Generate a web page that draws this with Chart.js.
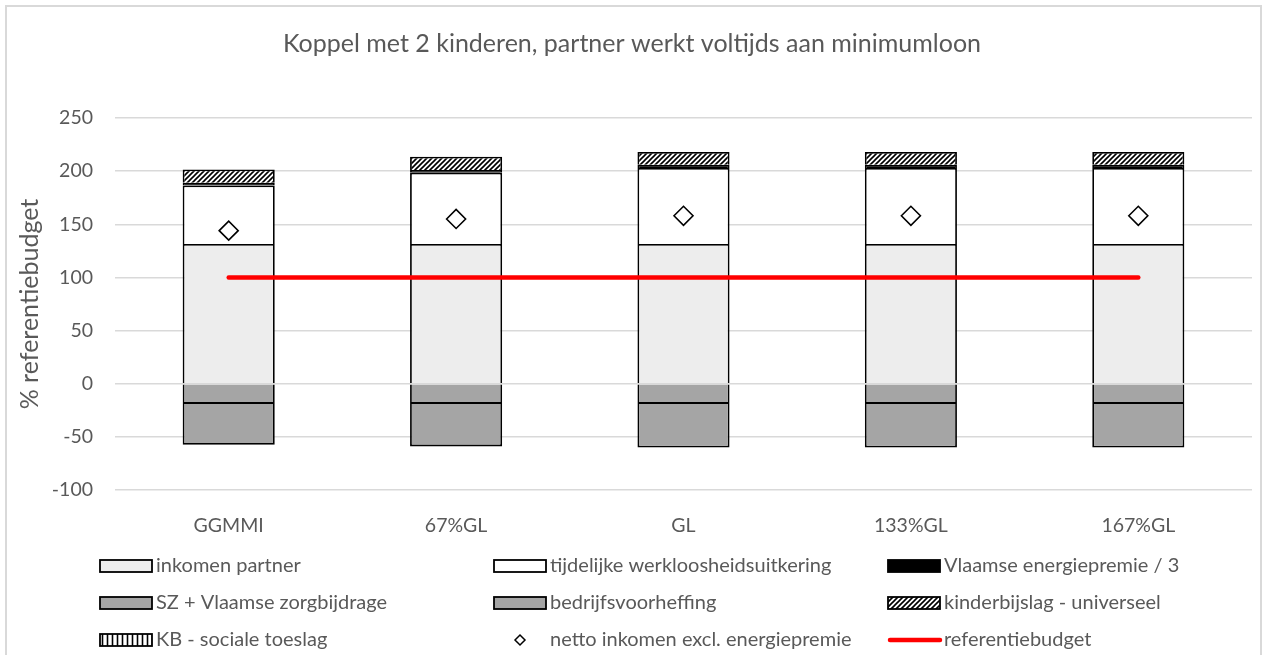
<!DOCTYPE html>
<html lang="nl">
<head>
<meta charset="utf-8">
<title>Koppel met 2 kinderen</title>
<script src="https://cdn.jsdelivr.net/npm/chart.js@4.4.1/dist/chart.umd.min.js"></script>
<style>
    html, body { margin: 0; padding: 0; background: #fff; }
    #wrap { position: relative; width: 1264px; height: 655px; overflow: hidden; }
    #frame {
        position: absolute; left: 5px; top: 5px; width: 1253px; height: 700px;
        border: 2px solid #d9d9d9; pointer-events: none;
    }
    canvas { position: absolute; left: 0; top: 0; }
</style>
</head>
<body>
<div id="wrap">
    <canvas id="chart" width="1264" height="655"></canvas>
    <div id="frame"></div>
</div>
<script>
// Categorieën en waarden (% referentiebudget)
const labels = ['GGMMI', '67%GL', 'GL', '133%GL', '167%GL'];
const inkomenPartner = [131.5, 131.5, 131.5, 131.5, 131.5];
const tijdelijkeWerkloosheid = [55, 67, 71.5, 71.5, 71.5];
const energiepremie = [2.5, 2.5, 3, 3, 3];
const kinderbijslagUniverseel = [12.5, 12.5, 12, 12, 12];
const kbSocialeToeslag = [0, 0, 0, 0, 0];
const szZorgbijdrage = [-19, -19, -19, -19, -19];
const bedrijfsvoorheffing = [-38.5, -40, -41, -41, -41];
const nettoInkomen = [144, 155, 158, 158, 158];
const referentiebudget = [100, 100, 100, 100, 100];
const yTicks = { min: -100, max: 250, step: 50 };

const TEXT = '#595959';
const FONT = 'Lato, "Open Sans", sans-serif';

/**
 * Arceringspatroon (diagonaal of verticaal)
 */
function makePattern(kind) {
    const c = document.createElement('canvas');
    const size = 5;
    c.width = size; c.height = size;
    const g = c.getContext('2d');
    g.fillStyle = '#fff';
    g.fillRect(0, 0, size, size);
    g.strokeStyle = '#000';
    g.lineWidth = 1.6;
    g.beginPath();
    if (kind === 'diag') {
        g.moveTo(-1, size + 1); g.lineTo(size + 1, -1);
        g.moveTo(-1, 1); g.lineTo(1, -1);
        g.moveTo(size - 1, size + 1); g.lineTo(size + 1, size - 1);
    } else {
        g.moveTo(size / 2, 0); g.lineTo(size / 2, size);
    }
    g.stroke();
    return g.createPattern(c, 'repeat');
}

const hatchDiag = makePattern('diag');
const hatchVert = makePattern('vert');

const barBase = {
    type: 'bar',
    borderColor: '#000',
    borderWidth: 1.8,
    categoryPercentage: 0.81,
    barPercentage: 0.5,
    stack: 'inkomen',
    order: 2
};

// Legende in drie kolommen, zoals in Excel
const gridLegend = {
    id: 'gridLegend',
    afterDraw(chart, args, opts) {
        const ctx = chart.ctx;
        ctx.save();
        ctx.font = '20px ' + FONT;
        ctx.textBaseline = 'middle';
        ctx.fillStyle = TEXT;
        opts.items.forEach((item, i) => {
            const x = opts.cols[i % 3];
            const y = opts.rows[Math.floor(i / 3)];
            const w = 52, h = 12;
            ctx.save();
            if (item.kind === 'box') {
                ctx.fillStyle = item.fill;
                ctx.fillRect(x, y - h / 2, w, h);
                ctx.strokeStyle = '#000';
                ctx.lineWidth = 1.8;
                ctx.strokeRect(x, y - h / 2, w, h);
            } else if (item.kind === 'diamond') {
                const cx = x + w / 2, r = 5;
                ctx.beginPath();
                ctx.moveTo(cx - r, y); ctx.lineTo(cx, y - r);
                ctx.lineTo(cx + r, y); ctx.lineTo(cx, y + r);
                ctx.closePath();
                ctx.fillStyle = '#fff'; ctx.fill();
                ctx.strokeStyle = '#000'; ctx.lineWidth = 1.5; ctx.stroke();
            } else {
                ctx.beginPath();
                ctx.moveTo(x + 2, y); ctx.lineTo(x + w, y);
                ctx.strokeStyle = '#ff0000'; ctx.lineWidth = 4.5; ctx.lineCap = 'round';
                ctx.stroke();
            }
            ctx.restore();
            ctx.fillText(item.text, x + w + 4, y);
        });
        ctx.restore();
    }
};

const ctx = document.getElementById('chart').getContext('2d');
new Chart(ctx, {
    data: {
        labels: labels,
        datasets: [
            { ...barBase, label: 'inkomen partner', data: inkomenPartner, backgroundColor: '#ededed' },
            { ...barBase, label: 'tijdelijke werkloosheidsuitkering', data: tijdelijkeWerkloosheid, backgroundColor: '#ffffff' },
            { ...barBase, label: 'Vlaamse energiepremie / 3', data: energiepremie, backgroundColor: '#000000' },
            { ...barBase, label: 'kinderbijslag - universeel', data: kinderbijslagUniverseel, backgroundColor: hatchDiag },
            { ...barBase, label: 'KB - sociale toeslag', data: kbSocialeToeslag, backgroundColor: hatchVert, borderWidth: 0 },
            { ...barBase, label: 'SZ + Vlaamse zorgbijdrage', data: szZorgbijdrage, backgroundColor: '#a5a5a5' },
            { ...barBase, label: 'bedrijfsvoorheffing', data: bedrijfsvoorheffing, backgroundColor: '#a5a5a5' },
            {
                type: 'line',
                label: 'referentiebudget',
                data: referentiebudget,
                stack: 'ref',
                borderColor: '#ff0000',
                borderWidth: 4.5,
                borderCapStyle: 'round',
                pointRadius: 0,
                order: 1
            },
            {
                type: 'line',
                label: 'netto inkomen excl. energiepremie',
                data: nettoInkomen,
                stack: 'netto',
                showLine: false,
                pointStyle: 'rectRot',
                pointRadius: 9.5,
                pointBackgroundColor: '#fff',
                pointBorderColor: '#000',
                pointBorderWidth: 1.6,
                order: 0
            }
        ]
    },
    options: {
        responsive: false,
        animation: false,
        layout: { padding: { left: 12, right: 12, top: 0, bottom: 105 } },
        plugins: {
            legend: { display: false },
            tooltip: { enabled: false },
            title: {
                display: true,
                text: 'Koppel met 2 kinderen, partner werkt voltijds aan minimumloon',
                color: TEXT,
                font: { family: FONT, size: 25, weight: 'normal' },
                padding: { top: 29, bottom: 59 }
            },
            gridLegend: {
                cols: [100, 494, 888],
                rows: [566, 603, 640],
                items: [
                    { kind: 'box', fill: '#ededed', text: 'inkomen partner' },
                    { kind: 'box', fill: '#ffffff', text: 'tijdelijke werkloosheidsuitkering' },
                    { kind: 'box', fill: '#000000', text: 'Vlaamse energiepremie / 3' },
                    { kind: 'box', fill: '#a5a5a5', text: 'SZ + Vlaamse zorgbijdrage' },
                    { kind: 'box', fill: '#a5a5a5', text: 'bedrijfsvoorheffing' },
                    { kind: 'box', fill: hatchDiag, text: 'kinderbijslag - universeel' },
                    { kind: 'box', fill: hatchVert, text: 'KB - sociale toeslag' },
                    { kind: 'diamond', text: 'netto inkomen excl. energiepremie' },
                    { kind: 'line', text: 'referentiebudget' }
                ]
            }
        },
        scales: {
            x: {
                stacked: true,
                grid: { display: false },
                border: { display: false },
                ticks: { color: TEXT, font: { family: FONT, size: 19.5 }, padding: 16 },
                afterFit(scale) { scale.height = 60; }
            },
            y: {
                stacked: true,
                min: yTicks.min,
                max: yTicks.max,
                grid: { color: '#d9d9d9', lineWidth: 1.5, drawTicks: false },
                border: { display: false },
                ticks: { stepSize: yTicks.step, color: TEXT, font: { family: FONT, size: 19.5 }, padding: 22 },
                title: {
                    display: true,
                    text: '% referentiebudget',
                    color: TEXT,
                    font: { family: FONT, size: 25 },
                    padding: { top: 3, bottom: 4 }
                },
                afterFit(scale) { scale.width = 103; }
            }
        }
    },
    plugins: [gridLegend]
});
</script>
</body>
</html>
